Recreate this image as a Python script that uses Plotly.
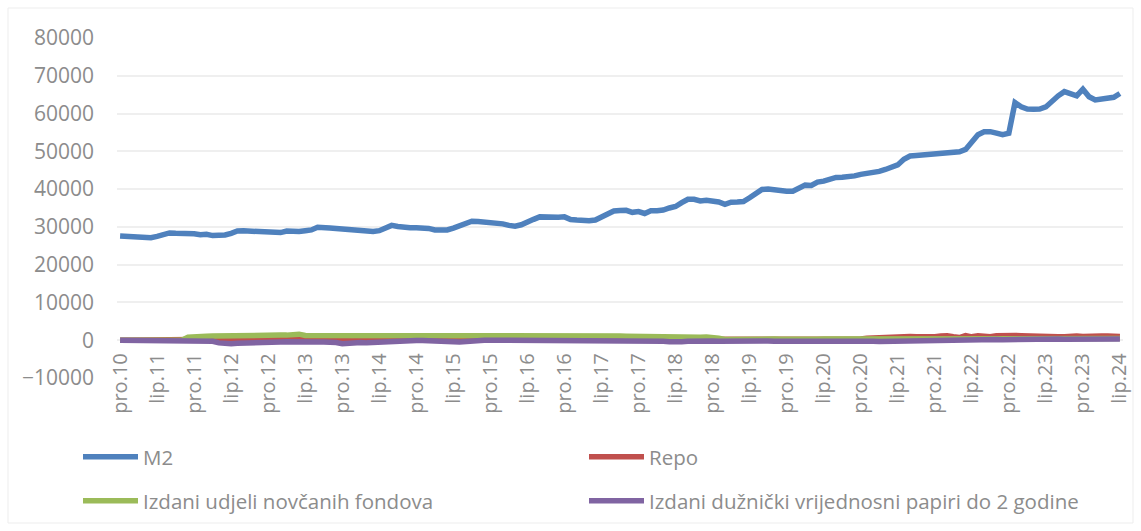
import plotly.graph_objects as go

# ---- categories: monthly, pro.10 (Dec 2010) .. lip.24 (Jun 2024) ----
month_abbr = ['sij', 'velj', 'ožu', 'tra', 'svi', 'lip', 'srp', 'kol', 'ruj', 'lis', 'stu', 'pro']
n_months = 163
categories = [f"{month_abbr[(11 + k) % 12]}.{10 + (11 + k) // 12:02d}" for k in range(n_months)]
tick_labels = categories[::6]

series_names = ['M2', 'Repo', 'Izdani udjeli novčanih fondova',
                'Izdani dužnički vrijednosni papiri do 2 godine']

m2 = [
    27600, 27550, 27400, 27200, 27100, 27150, 27500, 27900, 28400, 28300, 28350, 28300,
    28200, 27950, 28050, 27700, 27750, 27850, 28300, 28900, 28950, 28900, 28900, 28850,
    28850, 28600, 28500, 28900, 28700, 28800, 29000, 29200, 29900, 29950, 29700, 29550,
    29450, 29350, 29250, 29000, 28800, 28800, 29000, 29900, 30400, 30100, 29850, 29800,
    29750, 29700, 29600, 29200, 29100, 29200, 29700, 30200, 31000, 31500, 31450, 31350,
    31200, 31000, 30800, 30400, 30200, 30550, 31100, 32000, 32650, 32500, 32400, 32550,
    32650, 31950, 31800, 31550, 31600, 31800, 32600, 33600, 34200, 34350, 34400, 33850,
    34050, 33550, 34250, 34300, 34450, 35000, 35400, 36400, 37300, 37300, 36850, 37050,
    37000, 36600, 35950, 36550, 36600, 36700, 37700, 38700, 39900, 40000, 39700, 39500,
    39450, 39450, 40350, 41050, 40970, 41850, 42100, 42700, 43100, 43150, 43200, 43500,
    43900, 44100, 44350, 44700, 45200, 45800, 46400, 47900, 48750, 48900, 49050, 49300,
    49600, 49650, 49750, 49700, 49900, 50500, 52700, 54400, 55200, 55200, 54800, 54400,
    54800, 62900, 61800, 61200, 61150, 61200, 61750, 63300, 64700, 65800, 65200, 64700,
    66450, 64450, 63600, 63900, 64100, 64300, 65300,
]

repo = [
    0, 0, 0, 0, 0, 0, 0, 0, 0, 0, 0, 0,
    50, 100, 150, 200, 250, 400, 450, 400, 350, 400, 350, 400,
    450, 400, 450, 500, 550, 600, 450, 400, 450, 500, 550, 600,
    500, 450, 400, 350, 300, 300, 250, 250, 200, 200, 200, 150,
    150, 200, 200, 250, 200, 200, 150, 150, 200, 150, 150, 150,
    150, 150, 100, 150, 200, 150, 100, 150, 150, 200, 150, 100,
    150, 150, 100, 150, 200, 150, 150, 100, 150, 150, 200, 150,
    100, 150, 150, 100, 150, 200, 150, 150, 100, 150, 150, 200,
    150, 200, 250, 200, 150, 200, 250, 200, 200, 150, 200, 250,
    200, 200, 150, 200, 250, 200, 200, 250, 200, 250, 250, 300,
    300, 500, 600, 600, 650, 700, 900, 1100, 1000, 900, 850, 900,
    950, 1100, 1200, 900, 700, 1250, 900, 1200, 1000, 900, 1200, 1300,
    1300, 1250, 1200, 1100, 1200, 1150, 1100, 1000, 900, 950, 1200, 1100,
    1000, 1150, 1350, 1150, 1100, 1050, 1000,
]

fondovi = [
    0, 0, 0, 0, 0, 0, 0, 0, 0, 0, 0, 800,
    1000, 1000, 1050, 1100, 1150, 1250, 1200, 1200, 1150, 1200, 1250, 1250,
    1300, 1300, 1350, 1350, 1400, 1600, 1250, 1250, 1300, 1250, 1300, 1350,
    1400, 1250, 1250, 1300, 1250, 1250, 1300, 1250, 1300, 1300, 1300, 1300,
    1250, 1300, 1250, 1300, 1400, 1450, 1350, 1300, 1300, 1250, 1300, 1300,
    1350, 1300, 1350, 1350, 1400, 1450, 1450, 1450, 1450, 1450, 1450, 1400,
    1400, 1300, 1250, 1300, 1300, 1200, 1250, 1200, 1150, 1100, 1050, 1000,
    1000, 950, 950, 900, 900, 850, 850, 850, 800, 800, 800, 850,
    800, 500, 200, 250, 200, 250, 300, 250, 200, 250, 300, 250,
    200, 250, 300, 250, 300, 250, 300, 300, 250, 300, 300, 250,
    300, 350, 300, 300, 350, 300, 300, 350, 300, 300, 350, 350,
    300, 350, 300, 350, 400, 350, 300, 350, 400, 350, 400, 350,
    400, 400, 350, 400, 400, 350, 400, 400, 450, 400, 400, 450,
    400, 450, 400, 450, 450, 400, 450,
]

dug_papiri = [
    0, 0, 0, 0, -50, 0, 0, 0, 0, 0, 0, 0,
    0, 0, 0, -300, -700, -900, -900, -800, -700, -600, -500, -500,
    -450, -400, -450, -400, -350, -300, -350, -400, -450, -500, -500, -600,
    -900, -700, -500, -600, -700, -600, -400, -200, -100, -50, -50, -50,
    -50, -50, -50, -50, -100, -200, -400, -500, -300, -100, 0, 0,
    0, 0, 0, -50, 0, 0, 0, 0, 0, 0, -50, 0,
    0, 0, 0, 0, -50, 0, 0, 0, 0, -50, 0, 0,
    -50, -100, -100, -200, -300, -400, -500, -400, -300, -200, -300, -250,
    -200, -300, -250, -350, -250, -300, -350, -250, -300, -200, -300, -250,
    -300, -250, -200, -300, -250, -200, -250, -300, -250, -200, -250, -300,
    -300, -350, -300, -350, -300, -250, -300, -250, -200, -150, -150, -100,
    -100, -50, 0, 50, 0, 100, 50, 100, 150, 150, 200, 150,
    200, 200, 250, 200, 250, 200, 250, 250, 300, 250, 250, 300,
    250, 300, 250, 300, 300, 250, 300,
]

colors = ['#4F81BD', '#C0504D', '#9BBB59', '#8064A2']
series_values = [m2, repo, fondovi, dug_papiri]
legend_ids = ['legend', 'legend', 'legend2', 'legend2']

TXT = '#8c8c8c'
FONT = 'Open Sans, Liberation Sans, Arial, sans-serif'

fig = go.Figure()
for name, vals, col, lg in zip(series_names, series_values, colors, legend_ids):
    fig.add_trace(go.Scatter(
        x=categories, y=vals, name=name, mode='lines',
        line=dict(color=col, width=5.5),
        legend=lg,
    ))

W, H = 1141, 531
ml, mr, mt, mb = 117, 18, 38, 153
pw, ph = W - ml - mr, H - mt - mb

def px_x(px):
    return (px - ml) / pw

def px_y(py):
    return (H - mb - py) / ph

legend_common = dict(
    orientation='h', xanchor='left', yanchor='middle',
    entrywidth=436, entrywidthmode='pixels', itemwidth=55,
    font=dict(family=FONT, size=20.5, color=TXT),
    bgcolor='rgba(0,0,0,0)', borderwidth=0,
    itemclick=False, itemdoubleclick=False,
)

fig.update_layout(
    width=W, height=H,
    margin=dict(l=ml, r=mr, t=mt, b=mb, autoexpand=False),
    paper_bgcolor='white', plot_bgcolor='white',
    font=dict(family=FONT, color=TXT),
    showlegend=True,
    legend=dict(x=px_x(78), y=px_y(457), **legend_common),
    legend2=dict(x=px_x(78), y=px_y(501), **legend_common),
    xaxis=dict(
        type='category', categoryorder='array', categoryarray=categories,
        range=[-0.5, n_months - 0.5],
        tickmode='array', tickvals=tick_labels, ticktext=tick_labels,
        tickangle=-90, tickfont=dict(family=FONT, size=20, color=TXT),
        showgrid=False, zeroline=False, showline=False, ticks='',
        anchor='free', position=1 / 9, ticklabelstandoff=8,
    ),
    yaxis=dict(
        range=[-10000, 80000], tickmode='linear', tick0=-10000, dtick=10000,
        tickformat='d', showgrid=True, gridcolor='#efefef', gridwidth=1.5,
        zeroline=False, showline=False, ticks='',
        tickfont=dict(family=FONT, size=21, color=TXT),
        ticklabelstandoff=22,
    ),
    shapes=[dict(
        type='rect', xref='paper', yref='paper',
        x0=px_x(8), x1=px_x(1133), y0=px_y(523), y1=px_y(8),
        line=dict(color='#ededed', width=1), fillcolor='rgba(0,0,0,0)', layer='below',
    )],
)

fig.write_html('out.html', config={'displayModeBar': False},
               post_script="document.body.style.margin='0';")
